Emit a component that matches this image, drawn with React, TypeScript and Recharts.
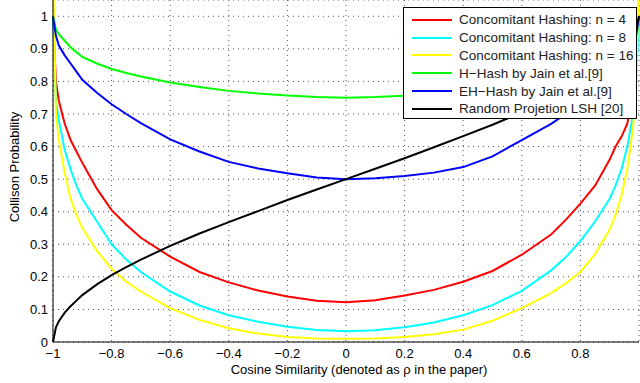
import { LineChart, Line, XAxis, YAxis, CartesianGrid } from "recharts";

const xs = [-1, -0.99, -0.98, -0.96, -0.94, -0.92, -0.9, -0.85, -0.8, -0.75, -0.7, -0.6, -0.5, -0.4, -0.3, -0.2, -0.1, 0, 0.1, 0.2, 0.3, 0.4, 0.5, 0.6, 0.7, 0.75, 0.8, 0.85, 0.9, 0.92, 0.94, 0.96, 0.98, 0.99, 1];

const chN4 = [1, 0.8, 0.74, 0.67, 0.62, 0.585, 0.55, 0.47, 0.405, 0.36, 0.32, 0.262, 0.215, 0.183, 0.158, 0.14, 0.127, 0.122, 0.128, 0.143, 0.16, 0.185, 0.218, 0.268, 0.33, 0.375, 0.425, 0.48, 0.56, 0.6, 0.63, 0.67, 0.76, 0.86, 1];
const chN8 = [1, 0.74, 0.68, 0.59, 0.53, 0.48, 0.44, 0.37, 0.3, 0.253, 0.215, 0.155, 0.112, 0.082, 0.062, 0.047, 0.037, 0.033, 0.036, 0.045, 0.06, 0.082, 0.113, 0.157, 0.22, 0.26, 0.31, 0.37, 0.44, 0.48, 0.53, 0.6, 0.7, 0.8, 1];
const chN16 = [1.15, 0.7, 0.62, 0.52, 0.44, 0.39, 0.35, 0.28, 0.225, 0.185, 0.155, 0.104, 0.068, 0.042, 0.026, 0.015, 0.011, 0.01, 0.011, 0.015, 0.024, 0.038, 0.065, 0.104, 0.15, 0.18, 0.215, 0.27, 0.345, 0.39, 0.45, 0.53, 0.66, 0.78, 1.15];
const hHash = [1, 0.96, 0.945, 0.925, 0.905, 0.89, 0.875, 0.855, 0.838, 0.826, 0.815, 0.797, 0.783, 0.771, 0.763, 0.757, 0.752, 0.75, 0.752, 0.756, 0.762, 0.771, 0.783, 0.797, 0.815, 0.826, 0.838, 0.855, 0.875, 0.89, 0.905, 0.925, 0.945, 0.96, 1];
const ehHash = [1, 0.94, 0.91, 0.88, 0.855, 0.83, 0.805, 0.765, 0.73, 0.7, 0.672, 0.622, 0.585, 0.553, 0.533, 0.518, 0.505, 0.5, 0.503, 0.51, 0.52, 0.537, 0.57, 0.62, 0.67, 0.7, 0.73, 0.765, 0.805, 0.83, 0.855, 0.88, 0.91, 0.94, 1];
const rpLsh = [0, 0.045, 0.064, 0.09, 0.11, 0.127, 0.144, 0.177, 0.205, 0.23, 0.253, 0.295, 0.333, 0.368, 0.402, 0.436, 0.468, 0.5, 0.532, 0.564, 0.598, 0.632, 0.667, 0.705, 0.747, 0.77, 0.795, 0.823, 0.856, 0.873, 0.89, 0.91, 0.936, 0.955, 1];

const xTicks = [-1, -0.8, -0.6, -0.4, -0.2, 0, 0.2, 0.4, 0.6, 0.8];
const yTicks = [0, 0.1, 0.2, 0.3, 0.4, 0.5, 0.6, 0.7, 0.8, 0.9, 1];

const series = [
  { key: "n4", name: "Concomitant Hashing: n = 4", color: "#ff0000", values: chN4 },
  { key: "n8", name: "Concomitant Hashing: n = 8", color: "#00ffff", values: chN8 },
  { key: "n16", name: "Concomitant Hashing: n = 16", color: "#ffff00", values: chN16 },
  { key: "hh", name: "H\u2212Hash by Jain et al.[9]", color: "#00ff00", values: hHash },
  { key: "eh", name: "EH\u2212Hash by Jain et al.[9]", color: "#0000ff", values: ehHash },
  { key: "rp", name: "Random Projetion LSH [20]", color: "#000000", values: rpLsh },
];

const data = xs.map((x, i) => {
  const row: Record<string, number> = { x };
  series.forEach((s) => (row[s.key] = s.values[i]));
  return row;
});

const font = "'Liberation Sans', Arial, Helvetica, sans-serif";
const fmt = (v: number) => String(v).replace("-", "\u2212");
const tickStyle = { fill: "#000", fontSize: 13, fontFamily: font };

// legend box drawn over the plot, like the matlab one
const LegendBox = () => (
  <div
    style={{
      position: "absolute",
      left: 403,
      top: 7,
      width: 234,
      height: 112,
      boxSizing: "border-box",
      background: "#fff",
      border: "1px solid #000",
      padding: "3px 0 0 8px",
      fontFamily: font,
      fontSize: 13.5,
      color: "#222",
    }}
  >
    {series.map((s) => (
      <div key={s.key} style={{ display: "flex", alignItems: "center", height: 17.8, whiteSpace: "nowrap" }}>
        <span style={{ width: 40, height: 2, background: s.color, marginRight: 7 }} />
        <span>{s.name}</span>
      </div>
    ))}
  </div>
);

export default function App() {
  return (
    <div style={{ position: "absolute", left: 0, top: 0, width: 640, height: 383, background: "#fff" }}>
      <LineChart width={640} height={383} data={data} margin={{ top: 0, right: 1, left: 0, bottom: 0 }}>
        <CartesianGrid stroke="#555" strokeDasharray="1 4" />
        <XAxis
          dataKey="x"
          type="number"
          domain={[-1, 1]}
          ticks={xTicks}
          tickFormatter={fmt}
          tickLine={false}
          tickSize={4}
          tickMargin={3}
          height={41}
          stroke="#000"
          tick={tickStyle}
          label={{
            value: "Cosine Similarity (denoted as \u03c1 in the paper)",
            position: "insideBottom",
            offset: 9,
            dx: 13,
            style: { fill: "#000", fontSize: 13, fontFamily: font },
          }}
        />
        <YAxis
          type="number"
          domain={[0, 1.05]}
          allowDataOverflow
          ticks={yTicks}
          tickLine={false}
          tickSize={3}
          tickMargin={2}
          width={53}
          stroke="#000"
          tick={tickStyle}
          label={{
            value: "Collison Probability",
            angle: -90,
            position: "insideLeft",
            offset: 14,
            dy: -4,
            style: { fill: "#000", fontSize: 13, fontFamily: font, textAnchor: "middle" },
          }}
        />
        {series.map((s) => (
          <Line
            key={s.key}
            dataKey={s.key}
            name={s.name}
            stroke={s.color}
            strokeWidth={2}
            dot={false}
            type="linear"
            isAnimationActive={false}
          />
        ))}
      </LineChart>
      <LegendBox />
    </div>
  );
}
